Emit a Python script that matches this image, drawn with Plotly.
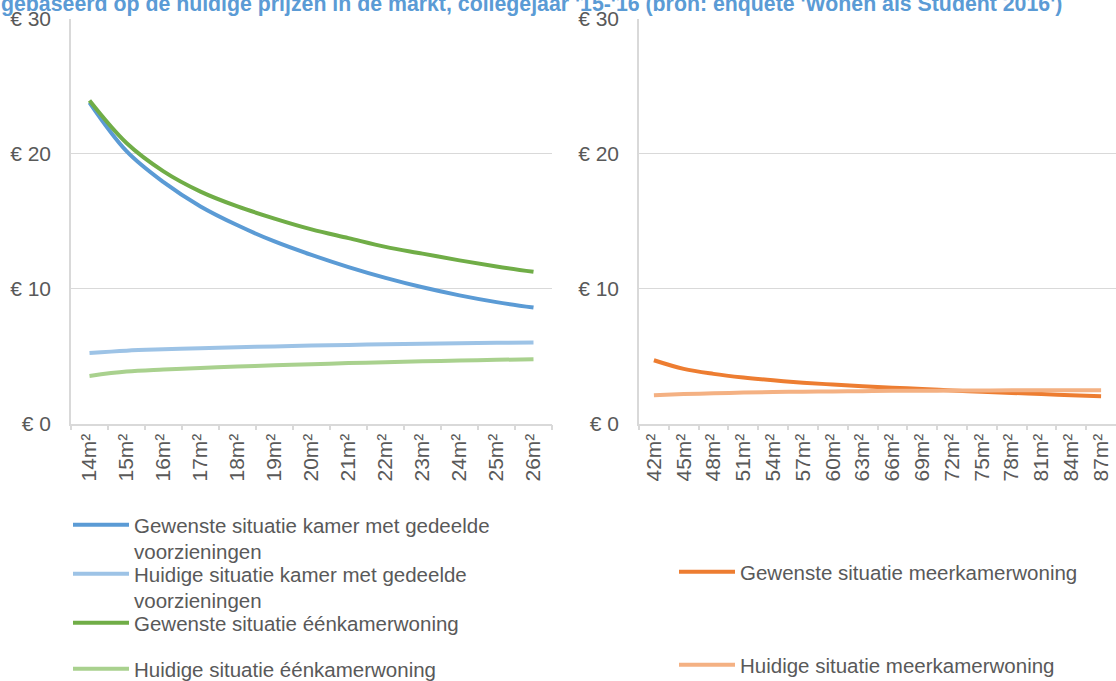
import plotly.graph_objects as go

W, H = 1116, 681

# ---- data ----
left_categories = ["14m²", "15m²", "16m²", "17m²", "18m²", "19m²", "20m²",
                   "21m²", "22m²", "23m²", "24m²", "25m²", "26m²"]
gewenst_kamer = [23.8, 20.2, 17.9, 16.1, 14.7, 13.5, 12.5, 11.6, 10.8, 10.1, 9.5, 9.0, 8.6]
huidig_kamer = [5.23, 5.4, 5.5, 5.58, 5.65, 5.72, 5.78, 5.83, 5.87, 5.91, 5.95, 5.98, 6.0]
gewenst_een = [23.95, 20.8, 18.7, 17.2, 16.1, 15.2, 14.4, 13.75, 13.1, 12.6, 12.1, 11.65, 11.25]
huidig_een = [3.53, 3.85, 4.0, 4.12, 4.22, 4.32, 4.4, 4.48, 4.55, 4.61, 4.67, 4.72, 4.77]

right_categories = ["42m²", "45m²", "48m²", "51m²", "54m²", "57m²", "60m²", "63m²",
                    "66m²", "69m²", "72m²", "75m²", "78m²", "81m²", "84m²", "87m²"]
gewenst_meer = [4.69, 4.05, 3.68, 3.41, 3.2, 3.03, 2.89, 2.77, 2.66, 2.56, 2.45, 2.36, 2.27, 2.18, 2.10, 2.03]
huidig_meer = [2.10, 2.18, 2.24, 2.29, 2.33, 2.36, 2.38, 2.40, 2.42, 2.43, 2.44, 2.45, 2.46, 2.46, 2.47, 2.47]

y_ticks = [0, 10, 20, 30]
y_tick_labels = ["€ 0", "€ 10", "€ 20", "€ 30"]

title_text = "gebaseerd op de huidige prijzen in de markt, collegejaar '15-'16 (bron: enquête 'Wonen als Student 2016')"

# ---- style ----
FONT = "Liberation Sans, Arial, sans-serif"
TXT = "#595959"
GRID = "#D9D9D9"

def px_x(x):
    return x / W

def px_y(y):
    return (H - y) / H

series = [
    ("Gewenste situatie kamer met gedeelde<br>voorzieningen", left_categories, gewenst_kamer, "#5B9BD5", "x", "y", "legend"),
    ("Huidige situatie kamer met gedeelde<br>voorzieningen", left_categories, huidig_kamer, "#9DC3E6", "x", "y", "legend2"),
    ("Gewenste situatie éénkamerwoning", left_categories, gewenst_een, "#70AD47", "x", "y", "legend3"),
    ("Huidige situatie éénkamerwoning", left_categories, huidig_een, "#A9D18E", "x", "y", "legend4"),
    ("Gewenste situatie meerkamerwoning", right_categories, gewenst_meer, "#ED7D31", "x2", "y2", "legend5"),
    ("Huidige situatie meerkamerwoning", right_categories, huidig_meer, "#F4B183", "x2", "y2", "legend6"),
]

fig = go.Figure()
for name, cats, vals, color, xa, ya, lg in series:
    fig.add_trace(go.Scatter(
        x=cats, y=vals, name=name, mode="lines",
        line=dict(color=color, width=4, shape="spline", smoothing=1.0),
        xaxis=xa, yaxis=ya, legend=lg, hoverinfo="skip",
    ))

xcommon = dict(
    type="category", showgrid=False, showline=True, linecolor=GRID, linewidth=1.5,
    ticks="outside", tickson="boundaries", ticklen=5, tickcolor=GRID, tickwidth=1.5,
    tickangle=-90, tickfont=dict(family=FONT, size=21, color=TXT), zeroline=False,
    fixedrange=True, automargin=False,
)
ycommon = dict(
    range=[0, 30], tickmode="array", tickvals=y_ticks, ticktext=y_tick_labels,
    showgrid=True, gridcolor=GRID,
    gridwidth=1, showline=True, linecolor=GRID, linewidth=1.5, zeroline=False,
    ticks="", ticklabelstandoff=14, tickfont=dict(family=FONT, size=21, color=TXT),
    fixedrange=True, automargin=False,
)

y_dom = [px_y(423.5), px_y(19)]

# legend positions (sample line y in px)
left_leg_y = [523, 572, 621, 667]
right_leg_y = [570, 663]
leg_offset = 18  # top of legend box above sample centre

legends = {}
for nm, yy in zip(["legend", "legend2", "legend3", "legend4"], left_leg_y):
    legends[nm] = dict(
        x=px_x(68), y=px_y(yy - leg_offset), xanchor="left", yanchor="top",
        bgcolor="rgba(0,0,0,0)", borderwidth=0, valign="top", itemwidth=56,
        font=dict(family=FONT, size=20.5, color=TXT),
    )
for nm, yy in zip(["legend5", "legend6"], right_leg_y):
    legends[nm] = dict(
        x=px_x(674), y=px_y(yy - leg_offset), xanchor="left", yanchor="top",
        bgcolor="rgba(0,0,0,0)", borderwidth=0, valign="top", itemwidth=56,
        font=dict(family=FONT, size=20.5, color=TXT),
    )

fig.update_layout(
    width=W, height=H,
    margin=dict(l=0, r=0, t=0, b=0, autoexpand=False),
    paper_bgcolor="white", plot_bgcolor="white",
    showlegend=True,
    xaxis=dict(domain=[px_x(71), px_x(552)], anchor="y",
               range=[-0.5, len(left_categories) - 0.5], **xcommon),
    yaxis=dict(domain=y_dom, anchor="x", **ycommon),
    xaxis2=dict(domain=[px_x(639), px_x(1116)], anchor="y2",
                range=[-0.5, len(right_categories) - 0.5], **xcommon),
    yaxis2=dict(domain=y_dom, anchor="x2", **ycommon),
    font=dict(family=FONT, size=20, color=TXT),
    annotations=[dict(
        text="<b>" + title_text + "</b>", xref="paper", yref="paper",
        x=px_x(531), y=px_y(4), xanchor="center", yanchor="middle",
        showarrow=False, font=dict(family=FONT, size=21.3, color="#5B9BD5"),
    )],
    **legends,
)

fig.write_html("out.html", config={"displayModeBar": False},
               post_script="document.body.style.margin='0px';")
